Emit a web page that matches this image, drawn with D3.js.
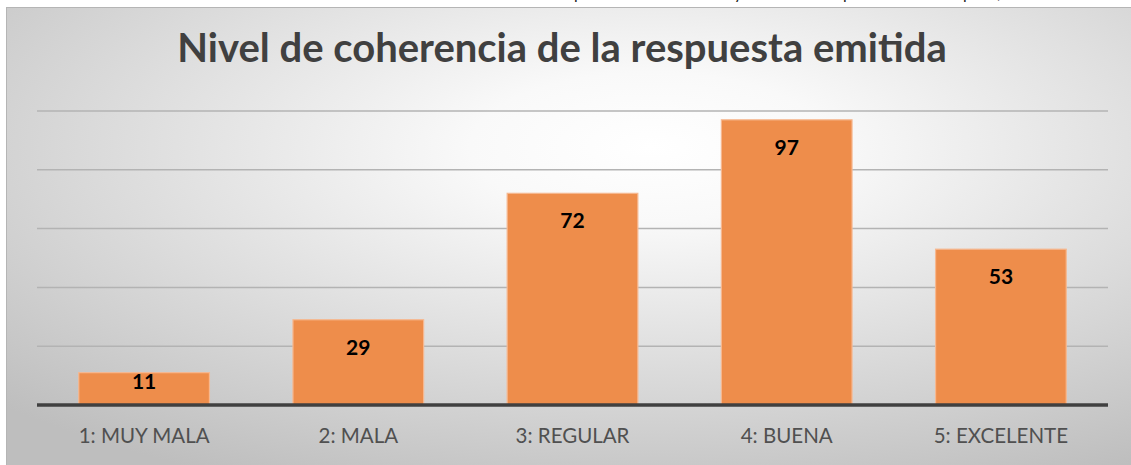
<!DOCTYPE html>
<meta charset="utf-8">
<html>
<head>
<script src="https://cdn.jsdelivr.net/npm/d3@7"></script>
<style>
  body { margin: 0; background: #fff; }
  svg { display: block; }
</style>
</head>
<body>
<div id="chart"></div>
<script>
// data
var categories = ["1: MUY MALA", "2: MALA", "3: REGULAR", "4: BUENA", "5: EXCELENTE"];
var values = [11, 29, 72, 97, 53];
var gridTicks = [20, 40, 60, 80, 100];
var title = "Nivel de coherencia de la respuesta emitida";

var W = 1131, H = 465;
var plot = {left: 37, right: 1108, top: 111, bottom: 405};

var svg = d3.select("#chart").append("svg")
  .attr("width", W)
  .attr("height", H);

// radial background like the excel chart area
var defs = svg.append("defs");
var grad = defs.append("radialGradient")
  .attr("id", "bg")
  .attr("cx", "0.57").attr("cy", "0.3").attr("r", "0.8");
grad.append("stop").attr("offset", "0%").attr("stop-color", "#ffffff");
grad.append("stop").attr("offset", "20%").attr("stop-color", "#f9f9f9");
grad.append("stop").attr("offset", "100%").attr("stop-color", "#bebebe");

// cut-off text of the page above the chart (only descenders show)
svg.append("text")
  .attr("y", -1)
  .style("font", "16px Lato, sans-serif")
  .style("fill", "#222")
  .selectAll("tspan")
  .data([["p", 574], ["y", 734], ["p", 843], ["p", 963], [",", 997]])
  .enter().append("tspan")
  .attr("x", function(d) { return d[1]; })
  .text(function(d) { return d[0]; });

svg.append("rect")
  .attr("x", 6.5).attr("y", 7.5)
  .attr("width", W).attr("height", H)
  .attr("fill", "url(#bg)")
  .attr("stroke", "#b5b5b5")
  .attr("stroke-width", 1);

var x = d3.scaleBand()
  .domain(categories)
  .range([plot.left, plot.right])
  .paddingInner(0.39)
  .paddingOuter(0.195);

var y = d3.scaleLinear()
  .domain([0, 100])
  .range([plot.bottom, plot.top]);

// gridlines
svg.append("g")
  .selectAll("line")
  .data(gridTicks)
  .enter().append("line")
  .attr("x1", plot.left).attr("x2", plot.right)
  .attr("y1", function(d) { return y(d); })
  .attr("y2", function(d) { return y(d); })
  .attr("stroke", "#b3b3b3")
  .attr("stroke-width", 1.5);

// title
svg.append("text")
  .attr("x", 562)
  .attr("y", 62)
  .attr("text-anchor", "middle")
  .style("font", "bold 40px Lato, sans-serif")
  .style("fill", "#404040")
  .text(title);

// bars
svg.append("g")
  .selectAll("rect")
  .data(values)
  .enter().append("rect")
  .attr("x", function(d, i) { return x(categories[i]); })
  .attr("y", function(d) { return y(d); })
  .attr("width", x.bandwidth())
  .attr("height", function(d) { return y(0) - y(d); })
  .attr("fill", "#ee8d4b")
  .attr("stroke", "#f6b890")
  .attr("stroke-width", 1.2);

// value labels, inside end
svg.append("g")
  .selectAll("text")
  .data(values)
  .enter().append("text")
  .attr("x", function(d, i) { return x(categories[i]) + x.bandwidth() / 2; })
  .attr("y", function(d) {
    var h = y(0) - y(d);
    return y(d) + (h > 60 ? 28 : 9) + 7;
  })
  .attr("text-anchor", "middle")
  .style("font", "bold 21px Lato, sans-serif")
  .style("fill", "#000")
  .text(function(d) { return d; });

// baseline
svg.append("line")
  .attr("x1", plot.left).attr("x2", plot.right)
  .attr("y1", y(0)).attr("y2", y(0))
  .attr("stroke", "#404040")
  .attr("stroke-width", 3.5);

// category labels
svg.append("g")
  .selectAll("text")
  .data(categories)
  .enter().append("text")
  .attr("x", function(d) { return x(d) + x.bandwidth() / 2; })
  .attr("y", 443)
  .attr("text-anchor", "middle")
  .style("font", "20.5px Lato, sans-serif")
  .style("fill", "#505050")
  .text(function(d) { return d; });
</script>
</body>
</html>
